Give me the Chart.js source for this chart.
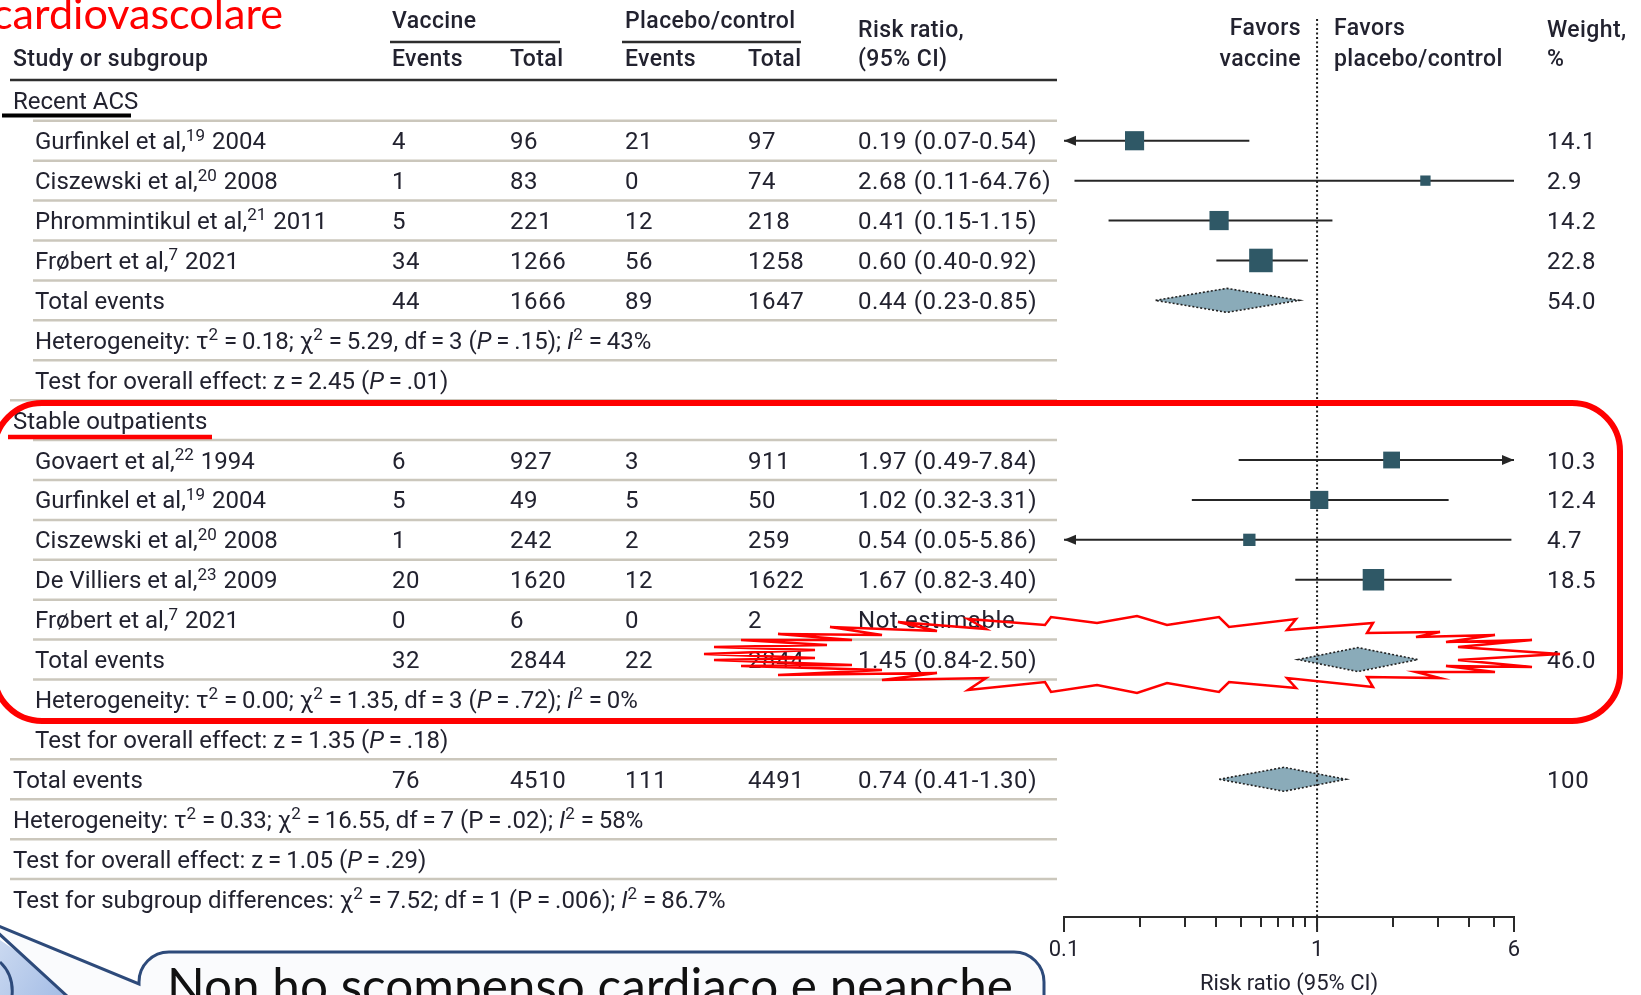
<!DOCTYPE html>
<html>
<head>
<meta charset="utf-8">
<title>Forest plot – vaccine vs placebo/control</title>
<script src="https://cdn.jsdelivr.net/npm/chart.js@4.4.1/dist/chart.umd.min.js"></script>
<style>
  html, body { margin: 0; padding: 0; background: #ffffff; overflow: hidden; }
  canvas { display: block; }
</style>
</head>
<body>
<canvas id="forest" width="1641" height="995"></canvas>
<script>
// ---- Table rows (one entry per row of the forest plot) ----
// Markup in labels: ^...^ = superscript, *...* = italic
const rowLabels = [
  'Recent ACS',
  'Gurfinkel et al,^19^ 2004',
  'Ciszewski et al,^20^ 2008',
  'Phrommintikul et al,^21^ 2011',
  'Frøbert et al,^7^ 2021',
  'Total events',
  'Heterogeneity: τ^2^ = 0.18; χ^2^ = 5.29, df = 3 (*P* = .15); *I*^2^ = 43%',
  'Test for overall effect: z = 2.45 (*P* = .01)',
  'Stable outpatients',
  'Govaert et al,^22^ 1994',
  'Gurfinkel et al,^19^ 2004',
  'Ciszewski et al,^20^ 2008',
  'De Villiers et al,^23^ 2009',
  'Frøbert et al,^7^ 2021',
  'Total events',
  'Heterogeneity: τ^2^ = 0.00; χ^2^ = 1.35, df = 3 (*P* = .72); *I*^2^ = 0%',
  'Test for overall effect: z = 1.35 (*P* = .18)',
  'Total events',
  'Heterogeneity: τ^2^ = 0.33; χ^2^ = 16.55, df = 7 (P = .02); *I*^2^ = 58%',
  'Test for overall effect: z = 1.05 (*P* = .29)',
  'Test for subgroup differences: χ^2^ = 7.52; df = 1 (P = .006); *I*^2^ = 86.7%'
];

const vaccineEvents = [null, 4, 1, 5, 34, 44, null, null, null, 6, 5, 1, 20, 0, 32, null, null, 76, null, null, null];
const vaccineTotal  = [null, 96, 83, 221, 1266, 1666, null, null, null, 927, 49, 242, 1620, 6, 2844, null, null, 4510, null, null, null];
const controlEvents = [null, 21, 0, 12, 56, 89, null, null, null, 3, 5, 2, 12, 0, 22, null, null, 111, null, null, null];
const controlTotal  = [null, 97, 74, 218, 1258, 1647, null, null, null, 911, 50, 259, 1622, 2, 2844, null, null, 4491, null, null, null];

const riskRatio = [null, 0.19, 2.68, 0.41, 0.60, 0.44, null, null, null, 1.97, 1.02, 0.54, 1.67, null, 1.45, null, null, 0.74, null, null, null];
const ciLow     = [null, 0.07, 0.11, 0.15, 0.40, 0.23, null, null, null, 0.49, 0.32, 0.05, 0.82, null, 0.84, null, null, 0.41, null, null, null];
const ciHigh    = [null, 0.54, 64.76, 1.15, 0.92, 0.85, null, null, null, 7.84, 3.31, 5.86, 3.40, null, 2.50, null, null, 1.30, null, null, null];
const weights   = [null, 14.1, 2.9, 14.2, 22.8, 54.0, null, null, null, 10.3, 12.4, 4.7, 18.5, null, 46.0, null, null, 100, null, null, null];

// pooled estimates (drawn as diamonds)
const pooledRows = [5, 14, 17];
// rows whose interval runs off the axis and carries an arrow head
const arrowLeftRows = [1, 11];
const arrowRightRows = [9];

// ---- Axis ----
const axisTicks = [0.1, 0.2, 0.3, 0.4, 0.5, 0.6, 0.7, 0.8, 0.9, 1, 2, 3, 4, 5, 6];
const axisTickLabels = [0.1, 1, 6];
const X_MIN = 0.1, X_MAX = 6;
const Y_TOP = -2.05, Y_BOTTOM = 20.45;

// ---- Styling ----
const INK = '#22222f';
const RULE = '#cbc7bc';
const CI_INK = '#262626';
const SQUARE = '#2f5866';
const DIAMOND = '#8aabb9';
const RED = '#ff0000';
const FONT = 'Roboto, "Liberation Sans", Arial, sans-serif';
const CALLOUT_FONT = 'Lato, "Liberation Sans", sans-serif';
const BODY_SIZE = 24;

const isIndented = i => !(i === 0 || i === 8 || i >= 17);

function drawRich(ctx, str, x, baseline, size, weight) {
  const parts = [];
  let sup = false, ital = false, buf = '';
  for (const ch of str) {
    if (ch === '^' || ch === '*') {
      if (buf) parts.push({ t: buf, sup, ital });
      buf = '';
      if (ch === '^') sup = !sup; else ital = !ital;
    } else buf += ch;
  }
  if (buf) parts.push({ t: buf, sup, ital });
  let cx = x;
  ctx.textAlign = 'left';
  ctx.textBaseline = 'alphabetic';
  for (const p of parts) {
    const fs = p.sup ? Math.round(size * 0.72) : size;
    ctx.font = `${p.ital ? 'italic ' : ''}${weight} ${fs}px ${FONT}`;
    const t = p.t.replace(/ = /g, '\u2009=\u2009');
    ctx.fillText(t, cx, baseline - (p.sup ? size * 0.36 : 0));
    cx += ctx.measureText(t).width + (p.sup ? 1 : 0);
  }
  return cx - x;
}

function hline(ctx, x0, x1, y) {
  ctx.beginPath(); ctx.moveTo(x0, y); ctx.lineTo(x1, y); ctx.stroke();
}

// column anchors of the table
const COL = { flush: 13, indent: 35, vE: 392, vT: 510, cE: 625, cT: 748, rr: 858, w: 1547, tableEnd: 1057 };

const tablePlugin = {
  id: 'forestTable',
  beforeDatasetsDraw(chart) {
    const { ctx } = chart;
    const y = chart.scales.y;
    ctx.save();
    ctx.fillStyle = INK;

    // column headers
    const hdr = (t, x, yy, align) => {
      ctx.font = `500 ${BODY_SIZE - 1}px ${FONT}`;
      ctx.letterSpacing = '0.4px';
      ctx.textAlign = align || 'left';
      ctx.textBaseline = 'middle';
      ctx.fillText(t, x, yy);
      ctx.letterSpacing = '0px';
    };
    hdr('Vaccine', COL.vE, 22);
    hdr('Placebo/control', COL.cE, 22);
    hdr('Study or subgroup', COL.flush, 60);
    hdr('Events', COL.vE, 60);
    hdr('Total', COL.vT, 60);
    hdr('Events', COL.cE, 60);
    hdr('Total', COL.cT, 60);
    hdr('Risk ratio,', COL.rr, 31);
    hdr('(95% CI)', COL.rr, 60);
    hdr('Favors', 1301, 29, 'right');
    hdr('vaccine', 1301, 60, 'right');
    hdr('Favors', 1334, 29);
    hdr('placebo/control', 1334, 60);
    hdr('Weight,', COL.w, 31);
    hdr('%', COL.w, 60);

    ctx.strokeStyle = '#2e2e2e';
    ctx.lineWidth = 2.5;
    hline(ctx, 390, 560, 42);
    hline(ctx, 622, 801, 42);
    hline(ctx, 10, COL.tableEnd, 80);

    // row separators
    ctx.strokeStyle = RULE;
    ctx.lineWidth = 2.5;
    for (let i = 0; i < rowLabels.length - 1; i++) {
      const yy = (y.getPixelForValue(i) + y.getPixelForValue(i + 1)) / 2;
      hline(ctx, isIndented(i + 1) ? 33 : 10, COL.tableEnd, yy);
    }

    // row contents
    ctx.fillStyle = INK;
    const cell = (v, x, base) => {
      ctx.font = `400 ${BODY_SIZE}px ${FONT}`;
      ctx.letterSpacing = '0.6px';
      ctx.textAlign = 'left';
      ctx.textBaseline = 'alphabetic';
      ctx.fillText(String(v), x, base);
      ctx.letterSpacing = '0px';
    };
    rowLabels.forEach((lab, i) => {
      const base = y.getPixelForValue(i) + 8.5;
      drawRich(ctx, lab, isIndented(i) ? COL.indent : COL.flush, base, BODY_SIZE, 400);
      if (vaccineEvents[i] != null) cell(vaccineEvents[i], COL.vE, base);
      if (vaccineTotal[i] != null) cell(vaccineTotal[i], COL.vT, base);
      if (controlEvents[i] != null) cell(controlEvents[i], COL.cE, base);
      if (controlTotal[i] != null) cell(controlTotal[i], COL.cT, base);
      if (riskRatio[i] != null) {
        cell(`${riskRatio[i].toFixed(2)} (${ciLow[i].toFixed(2)}-${ciHigh[i].toFixed(2)})`, COL.rr, base);
      } else if (vaccineEvents[i] != null) {
        cell('Not estimable', COL.rr, base);
      }
      if (weights[i] != null) cell(weights[i] === 100 ? '100' : weights[i].toFixed(1), COL.w, base);
    });
    ctx.restore();
  }
};

function arrowHead(ctx, px, py, dir) {
  ctx.beginPath();
  ctx.moveTo(px, py);
  ctx.lineTo(px - dir * 12, py - 5);
  ctx.lineTo(px - dir * 12, py + 5);
  ctx.closePath();
  ctx.fill();
}

const marksPlugin = {
  id: 'forestMarks',
  beforeDatasetsDraw(chart) {
    const { ctx } = chart;
    const { x, y } = chart.scales;
    ctx.save();
    ctx.strokeStyle = CI_INK;
    ctx.fillStyle = CI_INK;
    ctx.lineWidth = 2;
    // confidence intervals of the individual studies
    riskRatio.forEach((rr, i) => {
      if (rr == null || pooledRows.includes(i)) return;
      const py = y.getPixelForValue(i);
      const x1 = x.getPixelForValue(Math.max(ciLow[i], X_MIN));
      const x2 = x.getPixelForValue(Math.min(ciHigh[i], X_MAX));
      ctx.beginPath(); ctx.moveTo(x1, py); ctx.lineTo(x2, py); ctx.stroke();
      if (arrowLeftRows.includes(i)) arrowHead(ctx, x1, py, -1);
      if (arrowRightRows.includes(i)) arrowHead(ctx, x2, py, 1);
    });
    // pooled diamonds
    pooledRows.forEach(i => {
      const py = y.getPixelForValue(i);
      const xl = x.getPixelForValue(ciLow[i]);
      const xc = x.getPixelForValue(riskRatio[i]);
      const xr = x.getPixelForValue(ciHigh[i]);
      ctx.beginPath();
      ctx.moveTo(xl, py); ctx.lineTo(xc, py - 12); ctx.lineTo(xr, py); ctx.lineTo(xc, py + 12);
      ctx.closePath();
      ctx.fillStyle = DIAMOND;
      ctx.fill();
      ctx.setLineDash([2, 2]);
      ctx.lineWidth = 1.6;
      ctx.strokeStyle = '#222';
      ctx.stroke();
      ctx.setLineDash([]);
    });
    ctx.restore();
  }
};

// outline of the red "burst" highlight around the subgroup total
const burstOutline = [
  [704,654],[815,650],[714,647],[827,645],[741,640],[852,640],[778,634],[882,635],[830,627],[937,631],
  [898,622],[986,629],[968,619],[1045,625],[1051,617],[1097,623],[1137,616],[1167,625],[1219,617],[1229,627],
  [1296,619],[1287,630],[1373,623],[1367,633],[1440,632],[1416,637],[1495,635],[1446,642],[1532,640],[1458,647],
  [1560,654],[1458,660],[1532,667],[1446,666],[1495,672],[1416,672],[1440,678],[1367,677],[1373,687],[1287,678],
  [1296,688],[1229,682],[1219,692],[1167,683],[1137,693],[1097,685],[1051,692],[1045,682],[968,690],[986,678],
  [882,680],[937,673],[778,675],[882,670],[741,666],[852,665],[714,660],[815,658]
];

function fitSize(ctx, text, family, weight, width) {
  ctx.font = `${weight} 100px ${family}`;
  return 100 * width / ctx.measureText(text).width;
}

const notesPlugin = {
  id: 'slideNotes',
  afterDraw(chart) {
    const { ctx } = chart;
    const { x } = chart.scales;
    ctx.save();

    // longer ticks at the labelled values
    ctx.strokeStyle = '#2a2a2a';
    ctx.lineWidth = 2;
    axisTickLabels.forEach(v => {
      const px = x.getPixelForValue(v);
      ctx.beginPath(); ctx.moveTo(px, 917); ctx.lineTo(px, 932); ctx.stroke();
    });

    // slide title fragment
    const title = 'cardiovascolare';
    let fs = fitSize(ctx, title, CALLOUT_FONT, 400, 291);
    ctx.font = `400 ${fs}px ${CALLOUT_FONT}`;
    ctx.fillStyle = RED;
    ctx.textAlign = 'left';
    ctx.textBaseline = 'alphabetic';
    ctx.fillText(title, -8, 29);

    // underline marks
    ctx.strokeStyle = '#000';
    ctx.lineWidth = 4;
    hline(ctx, 2, 131, 115.5);
    ctx.strokeStyle = RED;
    ctx.lineWidth = 4.5;
    hline(ctx, 8, 212, 437);

    // rounded highlight frame around the stable outpatients block
    ctx.lineWidth = 6;
    ctx.strokeStyle = RED;
    ctx.beginPath();
    ctx.roundRect(-6, 403, 1626, 318, 48);
    ctx.stroke();

    // burst around the subgroup total
    ctx.lineWidth = 2.5;
    ctx.lineJoin = 'miter';
    ctx.beginPath();
    burstOutline.forEach(([px, py], k) => k ? ctx.lineTo(px, py) : ctx.moveTo(px, py));
    ctx.closePath();
    ctx.stroke();

    // figure at the lower left
    const g = ctx.createLinearGradient(0, 945, 80, 995);
    g.addColorStop(0, '#c9d8f0');
    g.addColorStop(1, '#9fb9e4');
    ctx.fillStyle = g;
    ctx.beginPath();
    ctx.moveTo(0, 940); ctx.lineTo(88, 1000); ctx.lineTo(0, 1000); ctx.closePath();
    ctx.fill();
    ctx.strokeStyle = '#2d4a7a';
    ctx.lineWidth = 3;
    ctx.beginPath();
    ctx.moveTo(0, 962); ctx.quadraticCurveTo(14, 975, 12, 996);
    ctx.stroke();

    // speech bubble
    const bx = 139, by = 952, br = 1044, r = 30;
    ctx.beginPath();
    ctx.moveTo(-16, 920);
    ctx.lineTo(bx, 984);
    ctx.lineTo(bx, by + r);
    ctx.arcTo(bx, by, bx + r, by, r);
    ctx.lineTo(br - r, by);
    ctx.arcTo(br, by, br, by + r, r);
    ctx.lineTo(br, 1100);
    ctx.lineTo(bx, 1100);
    ctx.lineTo(bx, 1062);
    ctx.closePath();
    ctx.fillStyle = '#fafbfd';
    ctx.fill();
    ctx.strokeStyle = '#2d4a7a';
    ctx.lineWidth = 3;
    ctx.stroke();

    const say = 'Non ho scompenso cardiaco e neanche';
    fs = fitSize(ctx, say, CALLOUT_FONT, 400, 846);
    ctx.font = `400 ${fs}px ${CALLOUT_FONT}`;
    const asc = ctx.measureText('N').actualBoundingBoxAscent;
    ctx.fillStyle = '#111';
    ctx.fillText(say, 167, 968 + asc);

    ctx.restore();
  }
};

// squares for individual studies, area grows with weight
const studyPoints = riskRatio
  .map((rr, i) => ({ x: rr, y: i, w: weights[i] }))
  .filter(p => p.x != null && !pooledRows.includes(p.y));

new Chart(document.getElementById('forest'), {
  type: 'scatter',
  data: {
    datasets: [
      {
        type: 'line',
        data: [{ x: 1, y: Y_TOP }, { x: 1, y: Y_BOTTOM }],
        borderColor: '#1e1e1e',
        borderWidth: 2,
        borderDash: [2, 2.5],
        pointRadius: 0,
        order: 2
      },
      {
        type: 'scatter',
        data: studyPoints,
        pointStyle: 'rect',
        pointRadius: c => (4.3 * Math.sqrt(c.raw.w) + 3) / Math.SQRT2,
        backgroundColor: SQUARE,
        borderWidth: 0,
        order: 1
      }
    ]
  },
  options: {
    responsive: false,
    animation: false,
    devicePixelRatio: 1,
    events: [],
    layout: { padding: { left: 1064, right: 127, top: 19, bottom: 0 } },
    plugins: { legend: { display: false }, tooltip: { enabled: false } },
    scales: {
      x: {
        type: 'logarithmic',
        min: X_MIN,
        max: X_MAX,
        position: 'bottom',
        afterBuildTicks: s => { s.ticks = axisTicks.map(v => ({ value: v })); },
        afterFit: s => { s.height = 78; },
        ticks: {
          autoSkip: false,
          maxRotation: 0,
          padding: 10,
          color: INK,
          font: { family: FONT, size: 22 },
          callback: v => axisTickLabels.includes(v) ? String(v) : ''
        },
        grid: { drawOnChartArea: false, drawTicks: true, tickLength: 10, lineWidth: 2, color: '#2a2a2a' },
        border: { display: true, width: 2, color: '#2a2a2a' },
        title: {
          display: true,
          text: 'Risk ratio (95% CI)',
          color: INK,
          font: { family: FONT, size: 22, lineHeight: 1.0 },
          padding: { top: 0, bottom: 0 }
        }
      },
      y: {
        type: 'linear',
        display: false,
        reverse: true,
        min: Y_TOP,
        max: Y_BOTTOM
      }
    }
  },
  plugins: [tablePlugin, marksPlugin, notesPlugin]
});
</script>
</body>
</html>
